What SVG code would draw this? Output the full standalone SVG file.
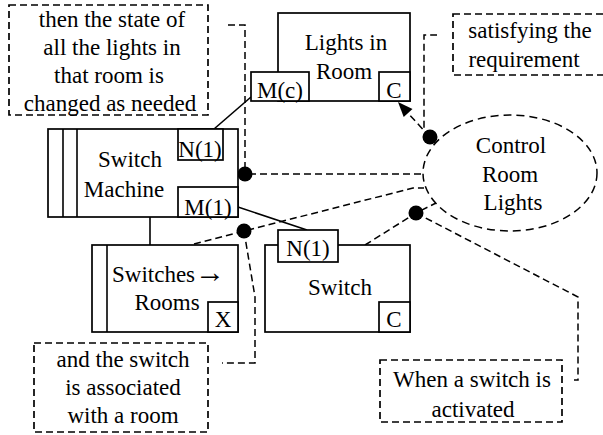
<svg xmlns="http://www.w3.org/2000/svg" width="603" height="435" viewBox="0 0 603 435">
<style>
text{font-size:23px;fill:#000;text-anchor:middle}
.box{fill:#fff;stroke:#000;stroke-width:1.7}
.note{fill:#fff;stroke:#000;stroke-width:1.7;stroke-dasharray:7 4}
.ln{fill:none;stroke:#000;stroke-width:1.6}
.dl{fill:none;stroke:#000;stroke-width:1.5;stroke-dasharray:7 4}
.dot{fill:#000}
</style>
<rect width="603" height="435" fill="#fff"/>
<g id="connectors">
<line class="ln" x1="214" y1="129" x2="251" y2="97"/>
<line class="ln" x1="194" y1="160" x2="194" y2="187"/>
<line class="ln" x1="238" y1="207" x2="307" y2="230"/>
<line class="ln" x1="150" y1="217" x2="150" y2="245"/>
<polyline class="dl" points="228,25 245,25 245,174"/>
<line class="dl" x1="194" y1="174" x2="424" y2="174"/>
<polyline class="dl" points="194,244 244,231 413,188 424,188"/>
<polyline class="dl" points="244,231 255,297 255,363 222,363"/>
<polyline class="dl" points="365,245 416,213 436,203"/>
<polyline class="dl" points="416,213 578,297 578,380 574,380"/>
<polyline class="dl" points="430,137 424,128 424,35 437,35"/>
<line class="dl" x1="430" y1="137" x2="406" y2="111"/>
<polygon class="dot" points="398,102 412.5,109 403.7,117.1"/>
<circle class="dot" cx="245" cy="174" r="7.5"/>
<circle class="dot" cx="244" cy="231" r="7.5"/>
<circle class="dot" cx="416" cy="213" r="7.5"/>
<circle class="dot" cx="430" cy="137" r="7.5"/>
</g>
<g font-family="Liberation Serif, DejaVu Serif, serif">
<g id="note-then">
<rect class="note" x="9" y="5" width="199" height="110"/>
<text x="112" y="27">then the state of</text>
<text x="112" y="55">all the lights in</text>
<text x="109" y="83">that room is</text>
<text x="110" y="111">changed as needed</text>
</g>
<g id="lights-in-room">
<rect class="box" x="278" y="13" width="132" height="88"/>
<text x="346" y="50">Lights in</text>
<text x="344" y="79">Room</text>
<rect class="box" x="251" y="72" width="58" height="29"/>
<text x="280" y="98">M(c)</text>
<rect class="box" x="379" y="72" width="31" height="29"/>
<text x="394" y="98">C</text>
</g>
<g id="note-satisfying">
<rect class="note" x="453" y="14" width="155" height="61"/>
<text x="530" y="38">satisfying the</text>
<text x="524" y="67">requirement</text>
</g>
<g id="switch-machine">
<rect class="box" x="48" y="129" width="190" height="88"/>
<line class="ln" x1="63" y1="129" x2="63" y2="217"/>
<line class="ln" x1="77" y1="129" x2="77" y2="217"/>
<text x="130" y="167">Switch</text>
<text x="124" y="197">Machine</text>
<rect class="box" x="178" y="129" width="45" height="31"/>
<text x="200" y="157">N(1)</text>
<rect class="box" x="178" y="187" width="60" height="30"/>
<text x="208" y="215">M(1)</text>
</g>
<g id="control-room-lights">
<ellipse cx="510" cy="173" rx="87" ry="58" fill="none" stroke="#000" stroke-width="1.5" stroke-dasharray="8 5"/>
<text x="511" y="153">Control</text>
<text x="510" y="182">Room</text>
<text x="513" y="210">Lights</text>
</g>
<g id="switches-rooms">
<rect class="box" x="92" y="245" width="146" height="87"/>
<line class="ln" x1="107" y1="245" x2="107" y2="332"/>
<text x="112" y="282" style="text-anchor:start">Switches<tspan font-size="30">→</tspan></text>
<text x="167" y="310">Rooms</text>
<rect class="box" x="208" y="302" width="30" height="30"/>
<text x="223" y="327">X</text>
</g>
<g id="switch">
<rect class="box" x="265" y="245" width="145" height="87"/>
<text x="340" y="295">Switch</text>
<rect class="box" x="278" y="230" width="60" height="32"/>
<text x="308" y="256">N(1)</text>
<rect class="box" x="379" y="302" width="31" height="30"/>
<text x="394" y="327">C</text>
</g>
<g id="note-and">
<rect class="note" x="34" y="343" width="174" height="89"/>
<text x="123" y="367">and the switch</text>
<text x="123" y="395">is associated</text>
<text x="123" y="423">with a room</text>
</g>
<g id="note-when">
<rect class="note" x="380" y="360" width="182" height="62"/>
<text x="472" y="387">When a switch is</text>
<text x="473" y="417">activated</text>
</g>
</g>
</svg>
